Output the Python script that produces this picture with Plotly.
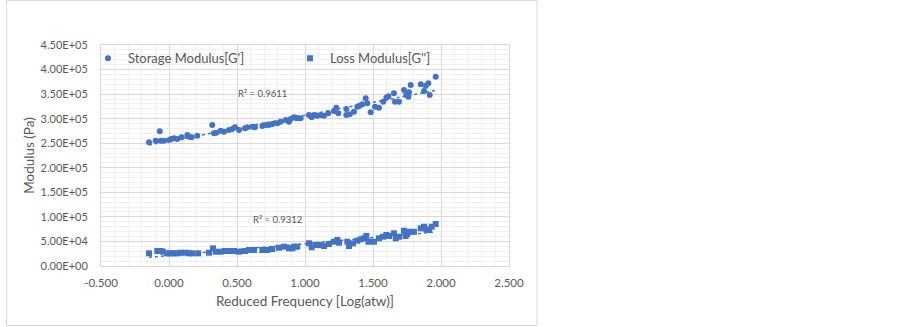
import numpy as np
import plotly.graph_objects as go

# ---------------- data ----------------
storage_x = [-0.147, -0.098, -0.068, -0.061, -0.037, 0.000, 0.017, 0.037, 0.061, 0.093,
             0.135, 0.147, 0.167, 0.208, 0.318, 0.331, 0.348, 0.380, 0.404, 0.441,
             0.465, 0.485, 0.515, 0.559, 0.576, 0.613, 0.632, 0.686, 0.711, 0.735,
             0.760, 0.796, 0.821, 0.858, 0.882, 0.919, 0.943, 0.895, 0.932, 0.968,
             1.029, 1.049, 1.066, 1.090, 1.115, 1.140, 1.171, 1.213, 1.230, 1.245,
             1.304, 1.304, 1.329, 1.360, 1.385, 1.402, 1.421, 1.446, 1.458, 1.483,
             1.515, 1.544, 1.576, 1.598, 1.613, 1.654, 1.662, 1.691, 1.728, 1.745,
             1.760, 1.777, 1.765, 1.851, 1.875, 1.888, 1.907, 1.917, 1.961]
storage_y = [251850, 255110, 274250, 255110, 255110, 256540, 258570, 260000, 258570, 262030,
             266700, 263250, 262030, 265290, 287080, 270180, 271400, 275470, 273430, 276900,
             278930, 282390, 276900, 280360, 282390, 283610, 282390, 285040, 287080, 287080,
             289110, 290540, 293790, 297260, 293790, 302750, 300720, 299290, 301940, 300720,
             307440, 302750, 307440, 306010, 307440, 306010, 310900, 315580, 322300, 310900,
             319650, 307440, 308860, 314150, 324330, 326370, 329220, 341440, 331260, 312930,
             324330, 322300, 334510, 342660, 345510, 351620, 334510, 334510, 358340, 348160,
             344690, 368520, 353650, 369940, 356300, 367090, 371980, 348160, 385410]

loss_x = [-0.147, -0.086, -0.061, -0.044, -0.013, 0.013, 0.037, 0.061, 0.086, 0.123,
          0.147, 0.171, 0.215, 0.294, 0.324, 0.343, 0.380, 0.412, 0.441, 0.478,
          0.515, 0.559, 0.588, 0.625, 0.686, 0.723, 0.760, 0.809, 0.846, 0.882,
          0.919, 0.907, 0.943, 1.029, 1.049, 1.079, 1.115, 1.140, 1.176, 1.213,
          1.238, 1.250, 1.311, 1.324, 1.353, 1.385, 1.410, 1.434, 1.451, 1.466,
          1.507, 1.544, 1.574, 1.598, 1.618, 1.654, 1.667, 1.691, 1.728, 1.740,
          1.752, 1.765, 1.801, 1.851, 1.875, 1.892, 1.912, 1.932, 1.961]
loss_y = [25860, 30540, 30540, 29110, 25860, 25860, 25860, 25860, 27080, 27080,
          25860, 25860, 25860, 27080, 36040, 29110, 29110, 30540, 30540, 30540,
          29110, 30540, 32580, 32580, 32580, 32580, 34610, 37260, 39290, 36040,
          39290, 36040, 39290, 46220, 38070, 42760, 42760, 40720, 44790, 49470,
          52940, 47440, 49470, 40720, 46220, 51510, 54360, 56400, 61080, 49470,
          49470, 56400, 59650, 63120, 61080, 66580, 56400, 59650, 71870, 61080,
          65150, 69830, 69830, 76760, 80010, 74720, 73300, 80010, 85510]

series_names = ["Storage Modulus[G']", "Loss Modulus[G'']"]
r2_labels = ["R² = 0.9611", "R² = 0.9312"]
r2_pos_x = [0.69, 0.80]
r2_pos_y = [352000, 95000]

x_ticks = [-0.5, 0.0, 0.5, 1.0, 1.5, 2.0, 2.5]
x_tick_labels = ["-0.500", "0.000", "0.500", "1.000", "1.500", "2.000", "2.500"]
y_ticks = [0, 50000, 100000, 150000, 200000, 250000, 300000, 350000, 400000, 450000]
y_tick_labels = ["0.00E+00", "5.00E+04", "1.00E+05", "1.50E+05", "2.00E+05",
                 "2.50E+05", "3.00E+05", "3.50E+05", "4.00E+05", "4.50E+05"]

x_title = "Reduced Frequency [Log(atw)]"
y_title = "Modulus (Pa)"

# ---------------- style ----------------
BLUE = "#4472C4"
TXT = "#595959"
FONT = "Lato"

fig = go.Figure()

for xs, ys, name, sym in [(storage_x, storage_y, series_names[0], "circle"),
                          (loss_x, loss_y, series_names[1], "square")]:
    fig.add_trace(go.Scatter(x=xs, y=ys, mode="markers", name=name,
                             marker=dict(symbol=sym, size=6, color=BLUE,
                                         line=dict(width=0))))
    a, b = np.polyfit(xs, ys, 1)
    tx = np.array([min(xs), max(xs)])
    fig.add_trace(go.Scatter(x=tx, y=a * tx + b, mode="lines", showlegend=False,
                             hoverinfo="skip",
                             line=dict(color=BLUE, width=1.5, dash="dot")))

for lbl, ax_, ay_ in zip(r2_labels, r2_pos_x, r2_pos_y):
    fig.add_annotation(x=ax_, y=ay_, text=lbl, showarrow=False,
                       font=dict(family=FONT, size=9.5, color=TXT))

axis_common = dict(showgrid=True, gridcolor="#d9d9d9", gridwidth=1,
                   zeroline=False, showline=True, linecolor="#d9d9d9",
                   linewidth=1, mirror=True, ticks="")

fig.update_xaxes(range=[-0.5, 2.5], tickmode="array", tickvals=x_ticks,
                 ticktext=x_tick_labels, ticklabelstandoff=6,
                 tickfont=dict(family=FONT, size=11.5, color=TXT),
                 minor=dict(tick0=0, dtick=0.1, showgrid=True, gridcolor="#f0f0f0"),
                 title=dict(text=x_title, font=dict(family=FONT, size=13.5, color=TXT),
                            standoff=8),
                 **axis_common)
fig.update_yaxes(range=[0, 450000], tickmode="array", tickvals=y_ticks,
                 ticktext=y_tick_labels, ticklabelstandoff=10,
                 tickfont=dict(family=FONT, size=11, color=TXT),
                 minor=dict(tick0=0, dtick=10000, showgrid=True, gridcolor="#f0f0f0"),
                 title=dict(text=y_title, font=dict(family=FONT, size=13.5, color=TXT),
                            standoff=2),
                 **axis_common)

fig.update_layout(
    width=903, height=327,
    margin=dict(l=101, r=394, t=45, b=61, pad=0),
    paper_bgcolor="white", plot_bgcolor="white",
    showlegend=True,
    legend=dict(orientation="h", x=-0.032, y=1.008, xanchor="left", yanchor="top",
                bgcolor="rgba(0,0,0,0)", font=dict(family=FONT, size=13, color=TXT),
                itemwidth=30, entrywidth=157, tracegroupgap=0),
    shapes=[dict(type="rect", xref="paper", yref="paper",
                 x0=-0.2316, x1=1.0686, y0=-0.2692, y1=1.2014,
                 line=dict(color="#d9d9d9", width=1), layer="below")],
)

fig.write_html("out.html", config={"displayModeBar": False},
               post_script="document.body.style.margin='0';document.body.style.overflow='hidden';")
